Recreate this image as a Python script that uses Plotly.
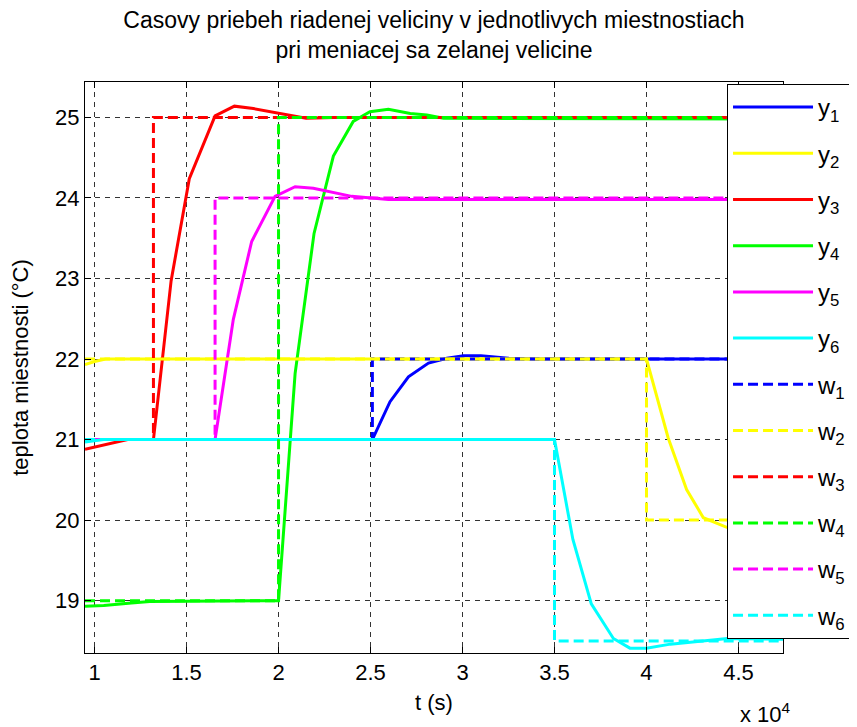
import plotly.graph_objects as go

# ---- data (time in seconds, temperature in °C) ----
t_y1 = [9480, 25100, 26060, 27060, 28150, 29150, 30050, 31000, 32500, 34000, 47420]
v_y1 = [21.0, 21.0, 21.47, 21.78, 21.95, 22.01, 22.04, 22.04, 22.01, 22.0, 22.0]

t_y2 = [9480, 10000, 10600, 40000, 41180, 42180, 43090, 44360, 45300, 46300, 47420]
v_y2 = [21.93, 21.97, 22.0, 22.0, 21.02, 20.38, 20.03, 19.91, 19.91, 19.95, 19.98]

t_y3 = [9480, 10200, 11000, 11800, 13200, 14160, 15150, 16550, 17600, 18630, 21500, 23000, 47420]
v_y3 = [20.88, 20.92, 20.96, 21.0, 21.0, 22.97, 24.24, 25.02, 25.14, 25.11, 24.99, 25.0, 25.0]

t_y4 = [9480, 10500, 12000, 13000, 20000, 20900, 21930, 22980, 24060, 24970, 25970, 27160, 28060, 28970, 47420]
v_y4 = [18.93, 18.94, 18.97, 18.99, 19.0, 21.82, 23.56, 24.52, 24.95, 25.07, 25.10, 25.05, 25.03, 24.99, 24.98]

t_y5 = [9480, 16550, 17540, 18540, 19810, 20900, 21890, 23340, 23980, 25970, 47420]
v_y5 = [21.0, 21.0, 22.49, 23.46, 24.02, 24.14, 24.12, 24.05, 24.02, 23.98, 23.98]

t_y6 = [9480, 10500, 35000, 36000, 37000, 38200, 39100, 40000, 41300, 44400, 47420]
v_y6 = [20.97, 21.0, 21.0, 19.76, 18.96, 18.53, 18.41, 18.41, 18.46, 18.53, 18.52]

t_w1 = [9480, 25100, 25100, 47420]
v_w1 = [21, 21, 22, 22]
t_w2 = [9480, 40000, 40000, 47420]
v_w2 = [22, 22, 20, 20]
t_w3 = [9480, 13200, 13200, 47420]
v_w3 = [21, 21, 25, 25]
t_w4 = [9480, 20000, 20000, 47420]
v_w4 = [19, 19, 25, 25]
t_w5 = [9480, 16550, 16550, 47420]
v_w5 = [21, 21, 24, 24]
t_w6 = [9480, 35000, 35000, 47420]
v_w6 = [21, 21, 18.5, 18.5]

x_tickvals = [10000, 15000, 20000, 25000, 30000, 35000, 40000, 45000]
x_ticktext = ["1", "1.5", "2", "2.5", "3", "3.5", "4", "4.5"]
y_tickvals = [19, 20, 21, 22, 23, 24, 25]

colors = ["#0000FF", "#FFFF00", "#FF0000", "#00FF00", "#FF00FF", "#00FFFF"]
solid = [(t_y1, v_y1), (t_y2, v_y2), (t_y3, v_y3), (t_y4, v_y4), (t_y5, v_y5), (t_y6, v_y6)]
dashed = [(t_w1, v_w1), (t_w2, v_w2), (t_w3, v_w3), (t_w4, v_w4), (t_w5, v_w5), (t_w6, v_w6)]

FONT = "Liberation Sans, Arial, Helvetica, sans-serif"

fig = go.Figure()
for i, (t, v) in enumerate(solid):
    fig.add_trace(go.Scatter(x=t, y=v, mode="lines", name=f"y<sub>{i+1}</sub>",
                             legendgroup=f"y{i+1}",
                             line=dict(color=colors[i], width=3)))
for i, (t, v) in enumerate(dashed):
    fig.add_trace(go.Scatter(x=t, y=v, mode="lines", name=f"w<sub>{i+1}</sub>",
                             legendgroup=f"w{i+1}",
                             line=dict(color=colors[i], width=3, dash="10px,5px")))

axis_common = dict(showline=True, linecolor="black", linewidth=1, mirror="ticks",
                   ticks="inside", ticklen=6, tickcolor="black", automargin=False,
                   showgrid=True, gridcolor="#333333", gridwidth=1, griddash="5px,5px",
                   zeroline=False, tickfont=dict(family=FONT, size=22, color="black"))

fig.update_xaxes(range=[9480, 47420], tickvals=x_tickvals, ticktext=x_ticktext,
                 title=dict(text="t (s)", font=dict(family=FONT, size=22, color="black"), standoff=10),
                 **axis_common)
fig.update_yaxes(range=[18.35, 25.44], tickvals=y_tickvals,
                 title=dict(text="teplota miestnosti (°C)", font=dict(family=FONT, size=22, color="black"), standoff=32),
                 **axis_common)

fig.add_annotation(text="x 10<sup>4</sup>", xref="paper", yref="paper", x=1.0, y=0,
                   xanchor="right", yanchor="top", yshift=-44, xshift=10, showarrow=False,
                   font=dict(family=FONT, size=22, color="black"))

fig.update_layout(
    width=849, height=719,
    margin=dict(l=77, r=74, t=74, b=74, autoexpand=False),
    paper_bgcolor="white", plot_bgcolor="white",
    title=dict(text="Casovy priebeh riadenej veliciny v jednotlivych miestnostiach<br>pri meniacej sa zelanej velicine",
               x=0.5, xref="paper", xanchor="center", y=0.9723, yanchor="top",
               font=dict(family=FONT, size=23, color="black")),
    legend=dict(x=0.9198, xanchor="left", y=0.9965, yanchor="top",
                bgcolor="white", bordercolor="black", borderwidth=1,
                font=dict(family=FONT, size=24, color="black"),
                itemwidth=80, tracegroupgap=12, traceorder="grouped"),
    showlegend=True,
)

fig.write_html("out.html")
